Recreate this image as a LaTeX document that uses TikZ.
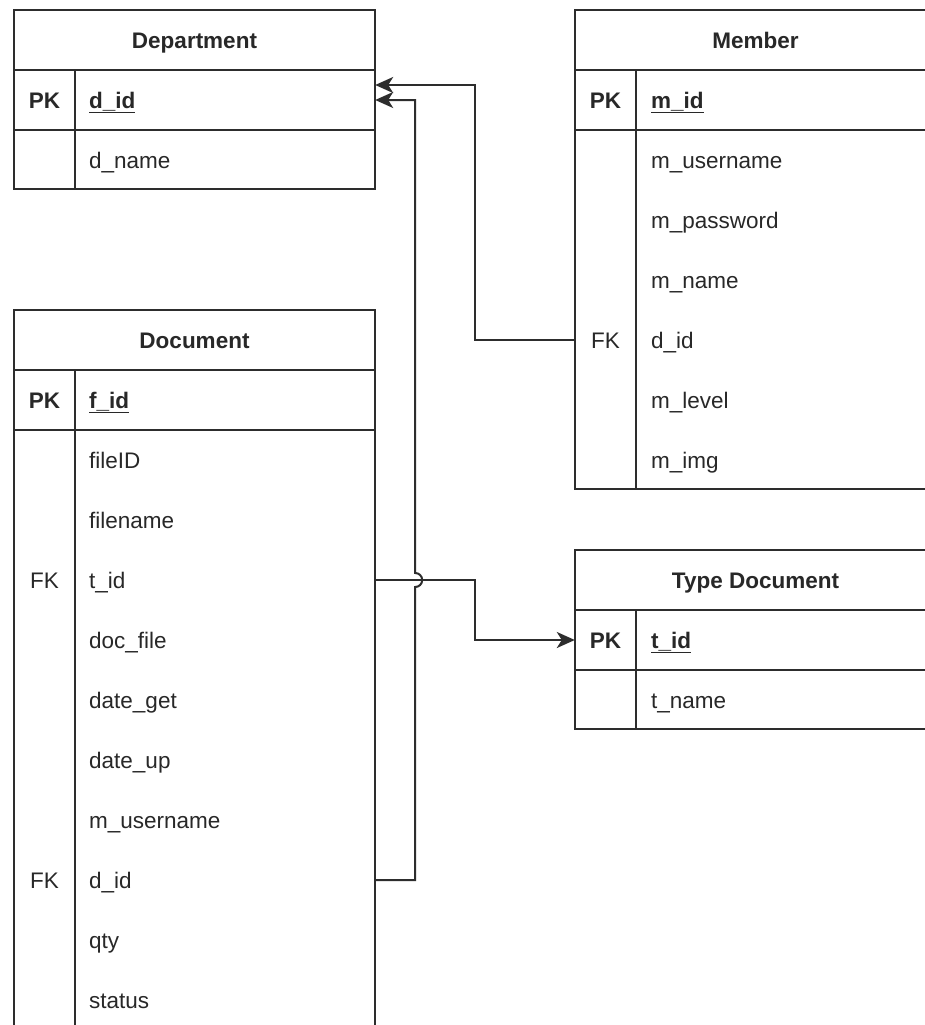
\documentclass[tikz,border=0pt]{standalone}
\usepackage{fontspec}
\setmainfont{Liberation Sans}
\usetikzlibrary{arrows.meta,calc}
\definecolor{ln}{RGB}{45,45,45}
\definecolor{txt}{RGB}{40,40,40}
\newcommand{\rfont}{\fontsize{22.5}{26}\selectfont}
\begin{document}
\begin{tikzpicture}[x=1pt,y=-1pt,
  tbl/.style={draw=ln,line width=2pt},
  tx/.style={text=txt,inner sep=0,text height=17pt,text depth=0pt},
  head/.style={tx,font=\rfont\bfseries},
  fld/.style={tx,font=\rfont,anchor=west},
  pkf/.style={tx,font=\rfont\bfseries,anchor=west},
  keyb/.style={tx,font=\rfont\bfseries},
  keyr/.style={tx,font=\rfont},
  rowbox/.style={minimum width=361pt,minimum height=60pt,inner sep=0,draw=none},
  conn/.style={draw=ln,line width=2pt,-{Stealth[length=18pt,width=16pt,inset=5pt]}}]
\useasboundingbox (0,0) rectangle (925,1025);
\clip (0,0) rectangle (925,1025);
\fill[white] (0,0) rectangle (925,1025);

% ---------- Department ----------
\draw[tbl] (14,10) rectangle (375,189);
\draw[tbl] (14,70) -- (375,70) (14,130) -- (375,130) (75,70) -- (75,189);
\node[rowbox] (dep-head) at (194.5,40) {};
\node[rowbox] (dep-did) at (194.5,100) {};
\node[rowbox] (dep-dname) at (194.5,160) {};
\node[head] (dep-title) at (dep-head) {Department};
\node[keyb] (dep-pk) at (44.5,100) {PK};
\node[pkf] (dep-t1) at (89,100) {\underline{d\_id}};
\node[fld] (dep-t2) at (89,160) {d\_name};

% ---------- Member ----------
\draw[tbl] (575,10) rectangle (936,489);
\draw[tbl] (575,70) -- (936,70) (575,130) -- (936,130) (636,70) -- (636,489);
\node[rowbox] (mem-head) at (755.5,40) {};
\node[rowbox] (mem-mid) at (755.5,100) {};
\node[rowbox] (mem-did) at (755.5,340) {};
\node[head] (mem-title) at (mem-head) {Member};
\node[keyb] (mem-pk) at (605.5,100) {PK};
\node[pkf] (mem-t1) at (651,100) {\underline{m\_id}};
\node[fld] (mem-t2) at (651,160) {m\_username};
\node[fld] (mem-t3) at (651,220) {m\_password};
\node[fld] (mem-t4) at (651,280) {m\_name};
\node[keyr] (mem-fk) at (605.5,340) {FK};
\node[fld] (mem-t5) at (651,340) {d\_id};
\node[fld] (mem-t6) at (651,400) {m\_level};
\node[fld] (mem-t7) at (651,460) {m\_img};

% ---------- Document ----------
\draw[tbl] (14,1045) -- (14,310) -- (375,310) -- (375,1045);
\draw[tbl] (14,370) -- (375,370) (14,430) -- (375,430) (75,370) -- (75,1045);
\node[rowbox] (doc-head) at (194.5,340) {};
\node[rowbox] (doc-tid) at (194.5,580) {};
\node[rowbox] (doc-did) at (194.5,880) {};
\node[head] (doc-title) at (doc-head) {Document};
\node[keyb] (doc-pk) at (44.5,400) {PK};
\node[pkf] (doc-t1) at (89,400) {\underline{f\_id}};
\node[fld] (doc-t2) at (89,460) {fileID};
\node[fld] (doc-t3) at (89,520) {filename};
\node[keyr] (doc-fk1) at (44.5,580) {FK};
\node[fld] (doc-t4) at (89,580) {t\_id};
\node[fld] (doc-t5) at (89,640) {doc\_file};
\node[fld] (doc-t6) at (89,700) {date\_get};
\node[fld] (doc-t7) at (89,760) {date\_up};
\node[fld] (doc-t8) at (89,820) {m\_username};
\node[keyr] (doc-fk2) at (44.5,880) {FK};
\node[fld] (doc-t9) at (89,880) {d\_id};
\node[fld] (doc-t10) at (89,940) {qty};
\node[fld] (doc-t11) at (89,1000) {status};

% ---------- Type Document ----------
\draw[tbl] (575,550) rectangle (936,729);
\draw[tbl] (575,610) -- (936,610) (575,670) -- (936,670) (636,610) -- (636,729);
\node[rowbox] (typ-head) at (755.5,580) {};
\node[rowbox] (typ-tid) at (755.5,640) {};
\node[head] (typ-title) at (typ-head) {Type Document};
\node[keyb] (typ-pk) at (605.5,640) {PK};
\node[pkf] (typ-t1) at (651,640) {\underline{t\_id}};
\node[fld] (typ-t2) at (651,700) {t\_name};

% ---------- Connectors ----------
\draw[conn] (mem-did.west) -- ++(-100,0) |- ($(dep-did.east)+(0,-15)$);
\draw[conn] (doc-tid.east) -- ++(100,0) |- (typ-tid.west);
\draw[conn] (doc-did.east) -- ++(40,0) -- ++(0,-293)
  arc[start angle=-90,end angle=90,radius=7pt] |- (dep-did.east);
\end{tikzpicture}
\end{document}
